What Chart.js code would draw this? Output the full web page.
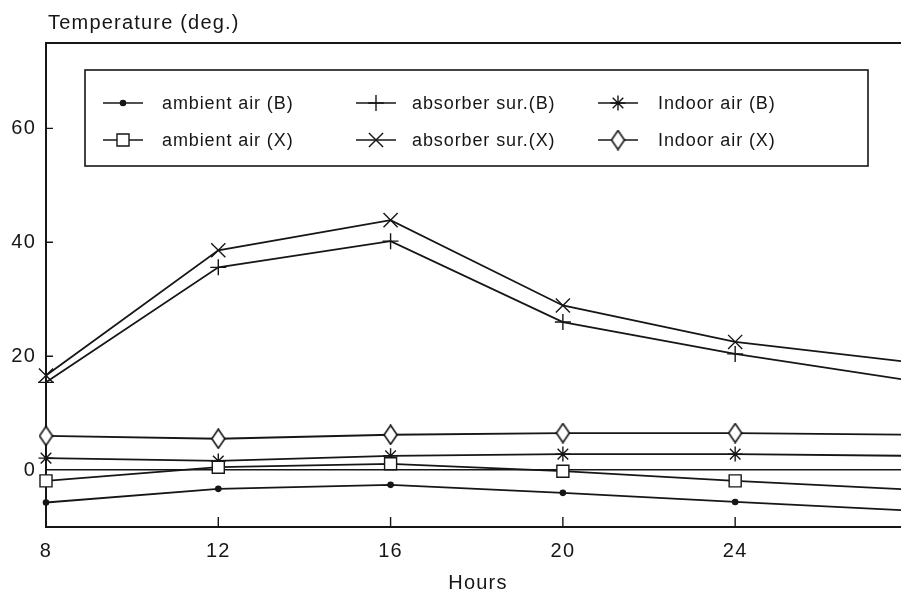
<!DOCTYPE html>
<html><head><meta charset="utf-8">
<script src="https://cdn.jsdelivr.net/npm/chart.js@4/dist/chart.umd.min.js"></script>
<style>html,body{margin:0;padding:0;background:#fff;overflow:hidden}canvas{display:block}</style>
</head><body>
<canvas id="c" width="901" height="591"></canvas>
<script>
// ---- data ----
const hours = [8, 12, 16, 20, 24, 28];
const ambientAirB = [-5.7, -3.3, -2.6, -4.0, -5.6, -7.1];
const ambientAirX = [-1.9, 0.5, 1.1, -0.2, -1.9, -3.4];
const absorberSurB = [15.4, 35.6, 40.2, 26.0, 20.4, 15.8];
const absorberSurX = [16.6, 38.6, 43.9, 28.9, 22.5, 19.0];
const indoorAirB = [2.1, 1.6, 2.5, 2.8, 2.8, 2.5];
const indoorAirX = [6.0, 5.5, 6.2, 6.5, 6.5, 6.2];
const seriesLabels = ['ambient air (B)', 'ambient air (X)', 'absorber sur.(B)', 'absorber sur.(X)', 'Indoor air (B)', 'Indoor air (X)'];
const xTicks = [8, 12, 16, 20, 24];
const yTicks = [0, 20, 40, 60];
const xTitle = 'Hours';
const yTitle = 'Temperature (deg.)';

// ---- styles ----
const INK = '#161616';
const FONT = '"Liberation Sans", Arial, sans-serif';
const X_MAX = 27.85;
function tallDiamond() {
  const c = document.createElement('canvas'); c.width = 15; c.height = 21;
  const g = c.getContext('2d');
  g.strokeStyle = INK; g.lineWidth = 1.6; g.fillStyle = '#fff';
  g.beginPath(); g.moveTo(7.5, 1); g.lineTo(14, 10.5); g.lineTo(7.5, 20); g.lineTo(1, 10.5); g.closePath();
  g.fill(); g.stroke();
  return c;
}
const markerStyles = [
  {pointStyle: 'circle', radius: 2.6, bg: INK},
  {pointStyle: 'rect', radius: 8.5, bg: '#fff'},
  {pointStyle: 'cross', radius: 8, bg: '#fff'},
  {pointStyle: 'crossRot', radius: 10, bg: '#fff'},
  {pointStyle: 'star', radius: 7.5, bg: '#fff'},
  {pointStyle: tallDiamond(), radius: 8, bg: '#fff'}
];
const seriesValues = [ambientAirB, ambientAirX, absorberSurB, absorberSurX, indoorAirB, indoorAirX];

const datasets = seriesValues.map((vals, i) => ({
  label: seriesLabels[i],
  data: hours.map((h, j) => ({x: h, y: vals[j]})),
  borderColor: INK,
  borderWidth: 1.8,
  backgroundColor: markerStyles[i].bg,
  pointStyle: markerStyles[i].pointStyle,
  pointRadius: c => (c.raw && c.raw.x > X_MAX) ? 0 : markerStyles[i].radius,
  pointBorderColor: INK,
  pointBackgroundColor: markerStyles[i].bg,
  pointBorderWidth: 1.4,
  tension: 0,
  clip: false
}));

const framePlugin = {
  id: 'frame',
  beforeDraw(chart) { chart.ctx.letterSpacing = '1.2px'; },
  beforeDatasetsDraw(chart) {
    const {ctx, chartArea: a, scales: {x, y}} = chart;
    ctx.save();
    ctx.strokeStyle = INK; ctx.lineWidth = 2;
    ctx.beginPath();
    ctx.moveTo(a.right + 2, a.top); ctx.lineTo(a.left, a.top); ctx.lineTo(a.left, a.bottom); ctx.lineTo(a.right + 2, a.bottom);
    ctx.stroke();
    ctx.lineWidth = 1.4;
    ctx.beginPath();
    yTicks.forEach(v => { if (v === 0) return; const py = y.getPixelForValue(v); ctx.moveTo(a.left, py); ctx.lineTo(a.left + 7, py); });
    xTicks.forEach(v => { if (v === xTicks[0]) return; const px = x.getPixelForValue(v); ctx.moveTo(px, a.bottom); ctx.lineTo(px, a.bottom - 10); });
    ctx.stroke();
    ctx.restore();
  },
  afterDraw(chart) {
    const {ctx} = chart;
    ctx.save();
    ctx.letterSpacing = '1.2px';
    ctx.fillStyle = INK;
    ctx.font = '20px ' + FONT;
    ctx.textAlign = 'left'; ctx.textBaseline = 'alphabetic';
    ctx.fillText(yTitle, 48, 29);
    ctx.textAlign = 'center';
    ctx.fillText(xTitle, 478, 589);
    // legend box
    ctx.strokeStyle = INK; ctx.lineWidth = 1.6;
    ctx.strokeRect(85, 70, 783, 96);
    const colCx = [123, 376, 618], colTx = [162, 412, 658], rowY = [103, 140];
    ctx.font = '18px ' + FONT;
    ctx.letterSpacing = '0.9px';
    ctx.textAlign = 'left'; ctx.textBaseline = 'middle';
    seriesLabels.forEach((lab, i) => {
      const col = Math.floor(i / 2), row = i % 2;
      const cx = colCx[col], cy = rowY[row];
      ctx.strokeStyle = INK; ctx.lineWidth = 1.5;
      ctx.beginPath(); ctx.moveTo(cx - 20, cy); ctx.lineTo(cx + 20, cy); ctx.stroke();
      ctx.fillStyle = markerStyles[i].bg; ctx.strokeStyle = INK; ctx.lineWidth = 1.4;
      Chart.helpers.drawPoint(ctx, {pointStyle: markerStyles[i].pointStyle, radius: markerStyles[i].radius, rotation: 0, borderWidth: 1.4}, cx, cy);
      ctx.fillStyle = INK;
      ctx.fillText(lab, colTx[col], cy + 1);
    });
    ctx.restore();
  }
};

new Chart(document.getElementById('c'), {
  type: 'line',
  data: {datasets},
  options: {
    responsive: false,
    animation: false,
    layout: {autoPadding: false, padding: {top: 43, left: 0, right: 0, bottom: 0}},
    plugins: {legend: {display: false}, tooltip: {enabled: false}},
    scales: {
      x: {
        type: 'linear', min: 8, max: X_MAX,
        afterBuildTicks: s => { s.ticks = xTicks.map(v => ({value: v})); },
        afterFit: s => { s.height = 64; },
        grid: {display: false, drawTicks: false},
        border: {display: false},
        ticks: {color: INK, font: {family: FONT, size: 20}, padding: 12, maxRotation: 0, autoSkip: false}
      },
      y: {
        type: 'linear', min: -10, max: 75,
        afterBuildTicks: s => { s.ticks = yTicks.map(v => ({value: v})); },
        afterFit: s => { s.width = 46; },
        grid: {drawTicks: false, lineWidth: 1.6, color: c => (c.tick && c.tick.value === 0) ? INK : 'rgba(0,0,0,0)'},
        border: {display: false},
        ticks: {color: INK, font: {family: FONT, size: 20}, padding: 10}
      }
    }
  },
  plugins: [framePlugin]
});
</script>
</body></html>
